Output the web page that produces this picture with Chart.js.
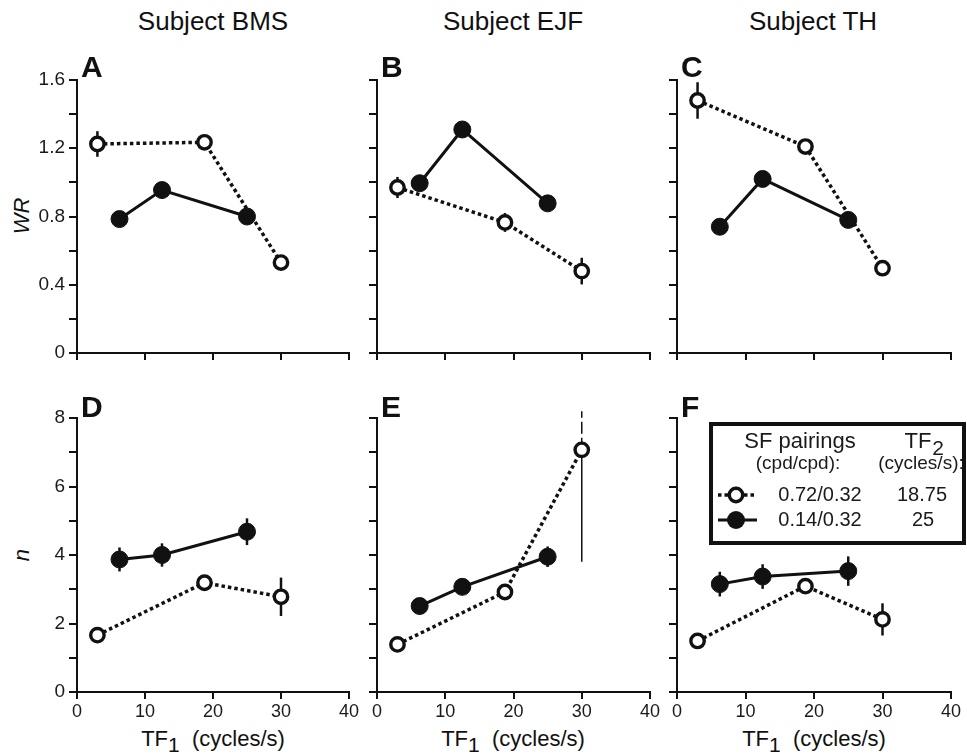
<!DOCTYPE html>
<html>
<head>
<meta charset="utf-8">
<script src="https://cdn.jsdelivr.net/npm/chart.js@4"></script>
<style>
  body { margin: 0; background: #fff; width: 967px; height: 756px; position: relative; overflow: hidden;
         font-family: "Liberation Sans", Arial, sans-serif; color: #111; }
  canvas { position: absolute; }
  .txt { position: absolute; white-space: pre; line-height: 1; transform: translate(-50%, -50%); }
  .title { font-size: 26px; }
  .letter { position: absolute; font-size: 30px; font-weight: bold; line-height: 1; }
  .ytitle { font-size: 22px; font-style: italic; transform: translate(-50%, -50%) rotate(-90deg); }
  .xtitle { font-size: 22px; }
  .xtitle span { position: relative; top: 6px; font-size: 21px; }
</style>
</head>
<body>

<div class="txt title" style="left:213px; top:21px">Subject BMS</div>
<div class="txt title" style="left:513px; top:21px">Subject EJF</div>
<div class="txt title" style="left:813px; top:21px">Subject TH</div>

<div class="txt ytitle" style="left:22px; top:216px">WR</div>
<div class="txt ytitle" style="left:22px; top:555px">n</div>

<div class="txt xtitle" style="left:213px; top:739px">TF<span>1</span>  (cycles/s)</div>
<div class="txt xtitle" style="left:513px; top:739px">TF<span>1</span>  (cycles/s)</div>
<div class="txt xtitle" style="left:814px; top:739px">TF<span>1</span>  (cycles/s)</div>

<script>
// TF1 values of the two SF pairings
const tfOpen = [3, 18.75, 30];
const tfFilled = [6.25, 12.5, 25];

// Weight ratio WR (top row)
const wrOpenBMS = [1.225, 1.235, 0.53];
const wrOpenBMSErr = [0.075, 0, 0];
const wrFilledBMS = [0.785, 0.955, 0.80];
const wrFilledBMSErr = [0, 0, 0];

const wrOpenEJF = [0.97, 0.765, 0.48];
const wrOpenEJFErr = [0.062, 0.055, 0.078];
const wrFilledEJF = [0.995, 1.31, 0.877];
const wrFilledEJFErr = [0, 0, 0];

const wrOpenTH = [1.48, 1.21, 0.497];
const wrOpenTHErr = [0.107, 0, 0];
const wrFilledTH = [0.74, 1.02, 0.78];
const wrFilledTHErr = [0, 0, 0];

// Exponent n (bottom row)
const nOpenBMS = [1.66, 3.19, 2.78];
const nOpenBMSErr = [0, 0, 0.56];
const nFilledBMS = [3.87, 4.0, 4.68];
const nFilledBMSErr = [0.35, 0.34, 0.39];

const nOpenEJF = [1.39, 2.92, 7.07];
const nOpenEJFErrLo = [0, 0, 3.27];
const nOpenEJFErrHi = [0, 0, 1.13];
const nFilledEJF = [2.51, 3.07, 3.95];
const nFilledEJFErr = [0, 0, 0.3];

const nOpenTH = [1.49, 3.09, 2.12];
const nOpenTHErr = [0, 0, 0.47];
const nFilledTH = [3.15, 3.37, 3.53];
const nFilledTHErr = [0.36, 0.36, 0.43];

// Axis ticks
const xTicks = [0, 10, 20, 30, 40];
const wrTickLabels = ['0', '0.4', '0.8', '1.2', '1.6'];
const nTickLabels = ['0', '2', '4', '6', '8'];

// Legend text
const legendHead = ['SF pairings', '(cpd/cpd):', 'TF', '2', '(cycles/s):'];
const legendPairs = ['0.72/0.32', '0.14/0.32'];
const legendTF2 = ['18.75', '25'];

const ink = '#111';
const OPEN_R = 6.7, OPEN_W = 3.4, FILLED_R = 9;
Chart.defaults.font.family = '"Liberation Sans", Arial, sans-serif';
Chart.defaults.color = '#1a1a1a';

function drawOpen(ctx, x, y) {
  ctx.beginPath();
  ctx.arc(x, y, OPEN_R, 0, Math.PI * 2);
  ctx.fillStyle = '#fff';
  ctx.fill();
  ctx.lineWidth = OPEN_W;
  ctx.strokeStyle = ink;
  ctx.stroke();
}

function drawFilled(ctx, x, y) {
  ctx.beginPath();
  ctx.arc(x, y, FILLED_R, 0, Math.PI * 2);
  ctx.fillStyle = ink;
  ctx.fill();
}

// vertical error bars, drawn under the markers; bars running past the top of the
// axis are thin and dashed above the point
const errorBars = {
  id: 'errorBars',
  beforeDatasetsDraw(chart) {
    const { ctx, scales: { x, y } } = chart;
    chart.data.datasets.forEach(ds => {
      ds.data.forEach((p, i) => {
        const lo = ds.errLo[i], hi = ds.errHi[i];
        if (!lo && !hi) return;
        const px = x.getPixelForValue(p.x);
        const offScale = p.y + hi > y.max;
        ctx.save();
        ctx.strokeStyle = ink;
        ctx.lineWidth = offScale ? 1.5 : 2.5;
        ctx.beginPath();
        ctx.moveTo(px, y.getPixelForValue(p.y - lo));
        ctx.lineTo(px, y.getPixelForValue(p.y));
        if (!offScale) ctx.lineTo(px, y.getPixelForValue(p.y + hi));
        ctx.stroke();
        if (offScale) {
          ctx.setLineDash([12, 4]);
          ctx.beginPath();
          ctx.moveTo(px, y.getPixelForValue(p.y));
          ctx.lineTo(px, y.getPixelForValue(p.y + hi));
          ctx.stroke();
        }
        ctx.restore();
      });
    });
  }
};

// boxed key in panel F
const keyBox = {
  id: 'keyBox',
  afterDraw(chart, args, opts) {
    if (!opts.show) return;
    const ctx = chart.ctx;
    ctx.save();
    ctx.fillStyle = '#fff';
    ctx.fillRect(104, 36, 253, 119);
    ctx.lineWidth = 4;
    ctx.strokeStyle = ink;
    ctx.strokeRect(104, 36, 253, 119);

    ctx.fillStyle = '#1a1a1a';
    ctx.textAlign = 'center';
    ctx.textBaseline = 'middle';
    ctx.font = '22px "Liberation Sans", Arial';
    ctx.fillText(legendHead[0], 193, 54);
    ctx.fillText(legendHead[2], 311, 54);
    ctx.font = '21px "Liberation Sans", Arial';
    ctx.fillText(legendHead[3], 331, 61);
    ctx.font = '19px "Liberation Sans", Arial';
    ctx.fillText(legendHead[1], 191, 76);
    ctx.fillText(legendHead[4], 314, 76);

    ctx.font = '20px "Liberation Sans", Arial';
    ctx.fillText(legendPairs[0], 213, 107);
    ctx.fillText(legendTF2[0], 315, 107);
    ctx.fillText(legendPairs[1], 213, 132);
    ctx.fillText(legendTF2[1], 316, 132);

    // dotted line with open marker
    ctx.strokeStyle = ink;
    ctx.lineWidth = 3.5;
    ctx.setLineDash([3.5, 3]);
    ctx.beginPath();
    ctx.moveTo(111, 107);
    ctx.lineTo(150, 107);
    ctx.stroke();
    ctx.setLineDash([]);
    drawOpen(ctx, 129, 107);

    // solid line with filled marker
    ctx.lineWidth = 3;
    ctx.beginPath();
    ctx.moveTo(111, 132);
    ctx.lineTo(150, 132);
    ctx.stroke();
    drawFilled(ctx, 129, 132);
    ctx.restore();
  }
};

const panels = [
  { letter: 'A', left: 77,  top: 80,  w: 272, h: 273, row: 'wr', yLabels: true,  open: wrOpenBMS, openLo: wrOpenBMSErr, openHi: wrOpenBMSErr, filled: wrFilledBMS, filledErr: wrFilledBMSErr },
  { letter: 'B', left: 377, top: 80,  w: 273, h: 273, row: 'wr', yLabels: false, open: wrOpenEJF, openLo: wrOpenEJFErr, openHi: wrOpenEJFErr, filled: wrFilledEJF, filledErr: wrFilledEJFErr },
  { letter: 'C', left: 677, top: 80,  w: 274, h: 273, row: 'wr', yLabels: false, open: wrOpenTH,  openLo: wrOpenTHErr,  openHi: wrOpenTHErr,  filled: wrFilledTH,  filledErr: wrFilledTHErr },
  { letter: 'D', left: 77,  top: 418, w: 272, h: 274, row: 'n',  yLabels: true,  open: nOpenBMS,  openLo: nOpenBMSErr,  openHi: nOpenBMSErr,  filled: nFilledBMS,  filledErr: nFilledBMSErr },
  { letter: 'E', left: 377, top: 418, w: 273, h: 274, row: 'n',  yLabels: false, open: nOpenEJF,  openLo: nOpenEJFErrLo, openHi: nOpenEJFErrHi, filled: nFilledEJF, filledErr: nFilledEJFErr },
  { letter: 'F', left: 677, top: 418, w: 274, h: 274, row: 'n',  yLabels: false, open: nOpenTH,   openLo: nOpenTHErr,   openHi: nOpenTHErr,   filled: nFilledTH,   filledErr: nFilledTHErr, key: true }
];

const AXIS_W = 70, PAD_TOP = 30, AXIS_H = 40;

panels.forEach(p => {
  const padRight = p.key ? 967 - (p.left + p.w) : 14;
  const canvas = document.createElement('canvas');
  canvas.width = AXIS_W + p.w + padRight;
  canvas.height = PAD_TOP + p.h + AXIS_H;
  canvas.style.left = (p.left - AXIS_W) + 'px';
  canvas.style.top = (p.top - PAD_TOP) + 'px';
  document.body.appendChild(canvas);

  const letter = document.createElement('div');
  letter.className = 'letter';
  letter.textContent = p.letter;
  letter.style.left = (p.left + 4) + 'px';
  letter.style.top = (p.row === 'wr' ? 52 : 392) + 'px';
  document.body.appendChild(letter);

  const isWR = p.row === 'wr';
  const yMax = isWR ? 1.6 : 8;
  const yStep = isWR ? 0.2 : 1;
  const yLabelList = isWR ? wrTickLabels : nTickLabels;
  const yLabelStep = isWR ? 0.4 : 2;

  new Chart(canvas, {
    type: 'scatter',
    data: {
      datasets: [
        {
          data: tfFilled.map((x, i) => ({ x, y: p.filled[i] })),
          errLo: p.filledErr, errHi: p.filledErr,
          showLine: true, borderColor: ink, borderWidth: 3,
          pointRadius: FILLED_R - 0.5, pointBorderWidth: 1, pointBorderColor: ink, pointBackgroundColor: ink,
          clip: false
        },
        {
          data: tfOpen.map((x, i) => ({ x, y: p.open[i] })),
          errLo: p.openLo, errHi: p.openHi,
          showLine: true, borderColor: ink, borderWidth: 3.5, borderDash: [3.5, 3],
          pointRadius: OPEN_R, pointBorderWidth: OPEN_W, pointBorderColor: ink, pointBackgroundColor: '#fff',
          clip: false
        }
      ]
    },
    options: {
      responsive: false,
      animation: false,
      events: [],
      layout: { padding: { top: PAD_TOP, right: padRight, left: 0, bottom: 0 } },
      plugins: { legend: { display: false }, tooltip: { enabled: false }, keyBox: { show: !!p.key } },
      scales: {
        x: {
          type: 'linear', min: xTicks[0], max: xTicks[xTicks.length - 1],
          afterFit: s => { s.height = AXIS_H; },
          afterBuildTicks: s => { s.ticks = xTicks.map(v => ({ value: v })); },
          ticks: { display: !isWR, font: { size: 18 }, padding: 2, maxRotation: 0, callback: v => String(v) },
          grid: { drawOnChartArea: false, drawTicks: true, tickLength: 7, tickWidth: 2, color: ink, lineWidth: 2 },
          border: { display: true, color: ink, width: 2 }
        },
        y: {
          type: 'linear', min: 0, max: yMax,
          afterFit: s => { s.width = AXIS_W; },
          ticks: {
            display: p.yLabels, stepSize: yStep, autoSkip: false, font: { size: 19 }, padding: 4,
            callback: v => {
              const k = Math.round(v / yLabelStep * 1000) / 1000;
              return Number.isInteger(k) ? yLabelList[k] : '';
            }
          },
          grid: { drawOnChartArea: false, drawTicks: true, tickLength: 8, tickWidth: 2, color: ink, lineWidth: 2 },
          border: { display: true, color: ink, width: 2 }
        }
      }
    },
    plugins: [errorBars, keyBox]
  });
});
</script>
</body>
</html>
